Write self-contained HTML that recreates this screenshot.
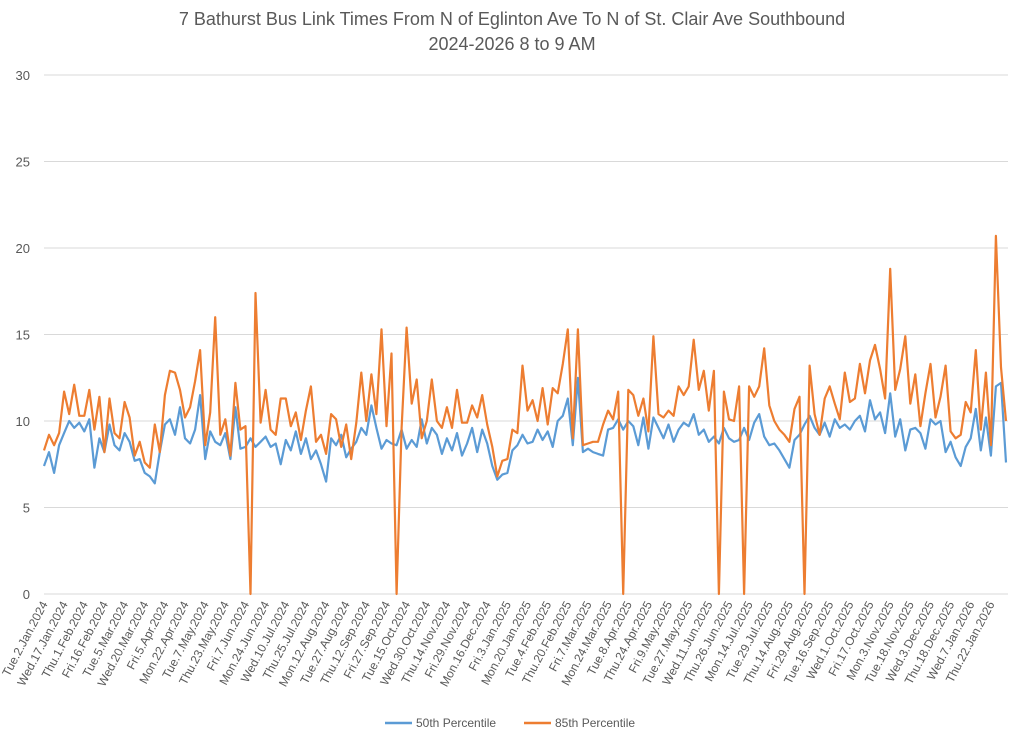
<!DOCTYPE html>
<html><head><meta charset="utf-8"><style>
html,body{margin:0;padding:0;background:#fff;}
svg{display:block;font-family:"Liberation Sans",sans-serif;}
</style></head><body>
<svg id="chart" width="1024" height="735" viewBox="0 0 1024 735" xmlns="http://www.w3.org/2000/svg">
<text x="512" y="25" text-anchor="middle" font-size="18" fill="#595959">7 Bathurst Bus Link Times From N of Eglinton Ave To N of St. Clair Ave Southbound</text>
<text x="512" y="50" text-anchor="middle" font-size="18" fill="#595959">2024-2026 8 to 9 AM</text>
<g id="grid"></g>
<g id="yticks"></g>
<g id="xticks"></g>
<g id="series"></g>
<g>
<line x1="385" y1="723" x2="412" y2="723" stroke="#5b9bd5" stroke-width="2.5"/>
<text x="416" y="727" font-size="12" fill="#595959">50th Percentile</text>
<line x1="524" y1="723" x2="551" y2="723" stroke="#ed7d31" stroke-width="2.5"/>
<text x="555" y="727" font-size="12" fill="#595959">85th Percentile</text>
</g>
</svg>
<script>
const categories = ["Tue.2.Jan.2024","Wed.17.Jan.2024","Thu.1.Feb.2024","Fri.16.Feb.2024","Tue.5.Mar.2024","Wed.20.Mar.2024","Fri.5.Apr.2024","Mon.22.Apr.2024","Tue.7.May.2024","Thu.23.May.2024","Fri.7.Jun.2024","Mon.24.Jun.2024","Wed.10.Jul.2024","Thu.25.Jul.2024","Mon.12.Aug.2024","Tue.27.Aug.2024","Thu.12.Sep.2024","Fri.27.Sep.2024","Tue.15.Oct.2024","Wed.30.Oct.2024","Thu.14.Nov.2024","Fri.29.Nov.2024","Mon.16.Dec.2024","Fri.3.Jan.2025","Mon.20.Jan.2025","Tue.4.Feb.2025","Thu.20.Feb.2025","Fri.7.Mar.2025","Mon.24.Mar.2025","Tue.8.Apr.2025","Thu.24.Apr.2025","Fri.9.May.2025","Tue.27.May.2025","Wed.11.Jun.2025","Thu.26.Jun.2025","Mon.14.Jul.2025","Tue.29.Jul.2025","Thu.14.Aug.2025","Fri.29.Aug.2025","Tue.16.Sep.2025","Wed.1.Oct.2025","Fri.17.Oct.2025","Mon.3.Nov.2025","Tue.18.Nov.2025","Wed.3.Dec.2025","Thu.18.Dec.2025","Wed.7.Jan.2026","Thu.22.Jan.2026"];
const yTicks = [0,5,10,15,20,25,30];
const p50 = [7.4,8.2,7.0,8.6,9.3,10.0,9.6,9.9,9.4,10.1,7.3,9.0,8.2,9.8,8.6,8.3,9.3,8.8,7.7,7.8,7.0,6.8,6.4,8.2,9.8,10.1,9.2,10.8,9.0,8.7,9.5,11.5,7.8,9.4,8.8,8.6,9.3,7.8,10.8,8.4,8.5,9.0,8.5,
8.8,9.1,8.5,8.7,7.5,8.9,8.3,9.4,8.1,9.0,7.8,8.3,7.5,6.5,
9.0,8.6,9.2,7.9,8.4,8.8,9.6,9.2,10.9,9.6,8.4,8.9,8.7,8.6,9.5,8.4,8.9,8.5,10.1,8.7,9.6,9.2,8.1,9.0,8.3,9.3,8.0,8.7,9.6,8.2,9.5,8.7,7.4,6.6,
6.9,7.0,8.3,8.6,9.2,8.7,8.8,9.5,8.9,9.4,8.5,10.0,10.3,11.3,8.6,12.5,8.2,8.4,8.2,8.1,8.0,9.5,9.6,10.1,9.5,10.0,9.7,8.6,10.2,8.4,10.2,9.6,
9.0,9.8,8.8,9.5,9.9,9.7,10.4,9.2,9.5,8.8,9.1,8.7,9.6,9.0,8.8,8.9,9.6,8.9,9.9,10.4,9.1,8.6,8.7,8.3,7.8,7.3,8.9,9.2,9.8,10.3,9.6,9.2,9.9,9.1,10.1,9.6,9.8,9.5,
10.0,10.3,9.4,11.2,10.1,10.5,9.3,11.6,9.1,10.1,8.3,9.5,9.6,9.3,8.4,10.1,9.8,10.0,8.2,8.8,7.9,7.4,8.5,9.0,10.7,8.3,10.2,8.0,12.0,12.2,7.6];
const p85 = [8.3,9.2,8.6,9.3,11.7,10.4,12.1,10.3,10.3,11.8,9.5,11.4,8.2,11.3,9.3,9.0,11.1,10.2,8.0,8.8,7.6,7.3,9.8,8.2,11.5,12.9,12.8,11.8,10.2,10.8,12.3,14.1,8.6,10.5,16.0,9.2,10.1,8.0,12.2,9.5,9.7,0,17.4,
9.9,11.8,9.5,9.2,11.3,11.3,9.7,10.5,8.9,10.6,12.0,8.8,9.2,8.1,
10.4,10.1,8.5,9.8,7.8,9.9,12.8,10.0,12.7,10.4,15.3,9.7,13.9,0,9.6,15.4,11.0,12.4,9.0,10.0,12.4,10.0,9.6,10.8,9.6,11.8,9.9,9.9,10.9,10.2,11.5,9.8,8.5,6.8,
7.7,7.8,9.5,9.3,13.2,10.6,11.2,10.0,11.9,9.8,11.9,11.6,13.3,15.3,9.0,15.3,8.6,8.7,8.8,8.8,9.8,10.6,10.1,11.7,0,11.8,11.5,10.3,11.3,9.4,14.9,10.4,
10.2,10.6,10.3,12.0,11.5,12.0,14.7,11.8,12.9,10.6,12.9,0,11.7,10.1,10.0,12.0,0,12.0,11.4,12.0,14.2,10.9,10.0,9.5,9.2,8.8,10.7,11.4,0,13.2,10.4,9.2,11.3,12.0,11.0,10.1,12.8,11.1,
11.3,13.3,11.6,13.5,14.4,13.0,11.3,18.8,11.8,13.0,14.9,11.0,12.7,9.7,11.6,13.3,10.2,11.4,13.2,9.4,9.0,9.2,11.1,10.5,14.1,9.5,12.8,8.6,20.7,13.1,10.0];
const pointsPerLabel = 4;

const NS = "http://www.w3.org/2000/svg";
const L = 44, R = 1008, Y0 = 594, Y30 = 75;
const n = p85.length;
const step = (1006 - L) / (n - 1);
function xScale(i){ return L + i * step; }
function yScale(v){ return Y0 - v * (Y0 - Y30) / 30; }

const grid = document.getElementById('grid');
const yt = document.getElementById('yticks');
yTicks.forEach(t => {
  const ln = document.createElementNS(NS, 'line');
  
  
  ln.setAttribute('x1', L); ln.setAttribute('x2', R);
  ln.setAttribute('y1', yScale(t)); ln.setAttribute('y2', yScale(t));
  ln.setAttribute('stroke', '#d9d9d9'); ln.setAttribute('stroke-width', '1');
  grid.appendChild(ln);
  const tx = document.createElementNS(NS, 'text');
  
  
  tx.setAttribute('x', 30); tx.setAttribute('y', yScale(t) + 5);
  tx.setAttribute('text-anchor', 'end'); tx.setAttribute('font-size', '13'); tx.setAttribute('fill', '#595959');
  tx.textContent = t;
  yt.appendChild(tx);
});

const xt = document.getElementById('xticks');
categories.forEach((c, k) => {
  const x = xScale(k * pointsPerLabel) + 4, y = 604;
  const tx = document.createElementNS(NS, 'text');
  
  
  tx.setAttribute('x', x); tx.setAttribute('y', y);
  tx.setAttribute('text-anchor', 'end'); tx.setAttribute('font-size', '12'); tx.setAttribute('fill', '#595959');
  tx.setAttribute('transform', 'rotate(-62 ' + x + ' ' + y + ')');
  tx.textContent = c;
  xt.appendChild(tx);
});

const sg = document.getElementById('series');
function drawLine(vals, color, name){
  const p = document.createElementNS(NS, 'polyline');
  
  
  p.setAttribute('points', vals.map((v, i) => xScale(i).toFixed(1) + ',' + yScale(v).toFixed(1)).join(' '));
  p.setAttribute('fill', 'none'); p.setAttribute('stroke', color);
  p.setAttribute('stroke-width', '2.2'); p.setAttribute('stroke-linejoin', 'round');
  sg.appendChild(p);
}
drawLine(p50, '#5b9bd5', 'line-50th-percentile');
drawLine(p85, '#ed7d31', 'line-85th-percentile');
</script>
</body></html>
